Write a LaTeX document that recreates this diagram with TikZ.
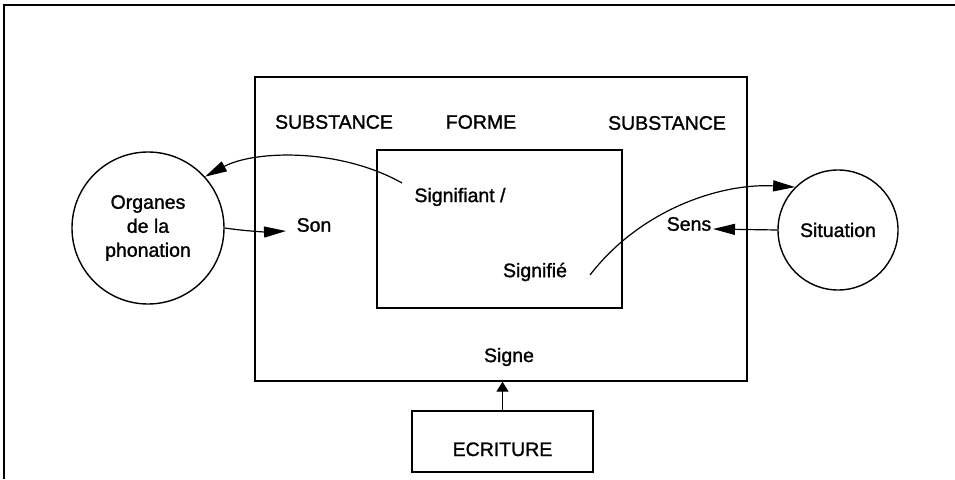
\documentclass[tikz,border=0pt]{standalone}
\usepackage{fontspec}
\setmainfont{Liberation Sans}[BoldFont={Liberation Sans},BoldFeatures={FakeBold=1.3}]
\usetikzlibrary{arrows.meta,positioning}
\tikzset{
  txt/.style={font=\fontsize{19.5}{24}\selectfont\bfseries},
  lbl/.style={inner sep=1pt, txt},
  frm/.style={draw, line width=1.4pt, inner sep=0pt},
  circ/.style={draw, circle, line width=1.4pt, inner sep=0pt, align=center, txt},
  arr/.style={line width=1.2pt, -{Triangle[length=22pt,width=11pt]}},
  shortarr/.style={line width=1.2pt, -{Triangle[length=10pt,width=12pt]}},
}
\begin{document}
\begin{tikzpicture}[x=1pt,y=-1pt]
\useasboundingbox (0,0) rectangle (955,479);
% outer frame (top and left only visible)
\draw[line width=1.6pt] (4,479) -- (4,5) -- (955,5);
% boxes
\node[frm, minimum width=492pt, minimum height=304pt] (big) at (501,229) {};
\node[frm, minimum width=245pt, minimum height=158pt] (inner) at (499.5,229) {};
\node[frm, minimum width=181pt, minimum height=61pt, txt, text height=29pt, text depth=0pt] (ecr) at (502.5,441.5) {ECRITURE};
% circles
\node[circ, minimum size=152pt] (org) at (148,228) {Organes\\de la\\phonation};
\node[circ, minimum size=120pt] (sit) at (838,230) {Situation};
% labels
\node[lbl] (subl) at (334,122) {SUBSTANCE};
\node[lbl] (forme) at (481,122) {FORME};
\node[lbl] (subr) at (667,123) {SUBSTANCE};
\node[lbl] (son) at (314,225) {Son};
\node[lbl] (sens) at (689,224) {Sens};
\node[lbl] (sgt) at (460,197) {Signifiant /};
\node[lbl] (sge) at (535,272) {Signifié};
\node[lbl] (signe) at (509,357) {Signe};
% free ends
\coordinate (a1) at (402,183);
\coordinate (a2) at (286,231);
\coordinate (a3) at (590,275);
\coordinate (a4) at (713,229);
% connectors
\draw[arr] (a1) .. controls (340,148) and (255,150) .. (org.42);
\draw[arr] (org.east) .. controls (245,231) and (265,232) .. (a2);
\draw[arr] (a3) .. controls (640,210) and (720,183) .. (sit.135);
\draw[arr] (sit.west) -- (a4);
\draw[shortarr] (ecr.north) -- (ecr.north |- big.south);
\end{tikzpicture}
\end{document}
